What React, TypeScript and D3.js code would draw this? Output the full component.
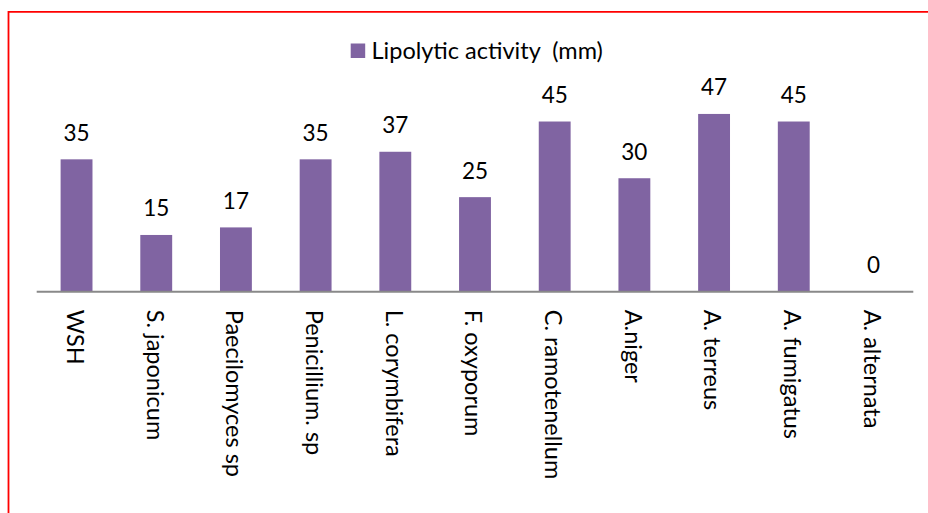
import React from "react";
import * as d3 from "d3";

const categories: string[] = [
  "WSH",
  "S. japonicum",
  "Paecilomyces sp",
  "Penicillium. sp",
  "L. corymbifera",
  "F. oxyporum",
  "C. ramotenellum",
  "A.niger",
  "A. terreus",
  "A. fumigatus",
  "A. alternata",
];
const lipolyticValues: number[] = [35, 15, 17, 35, 37, 25, 45, 30, 47, 45, 0];
const seriesName = "Lipolytic activity  (mm)";

const W = 928;
const H = 513;
const FONT = "Lato, 'Open Sans', sans-serif";
const PURPLE = "#8064A2";

export default function App() {
  const x = d3
    .scaleBand<string>()
    .domain(categories)
    .range([36.7, 913.3])
    .paddingInner(0.6)
    .paddingOuter(0.3);
  const y = d3.scaleLinear().domain([0, 50]).range([291.7, 102.6]);
  const base = y(0);

  return (
    <svg
      width={W}
      height={H}
      style={{ position: "absolute", left: 0, top: 0, background: "#fff" }}
      fontFamily={FONT}
      fontWeight={400}
    >
      <rect x={0} y={0} width={W} height={H} fill="#fff" />
      {/* red frame */}
      <line x1={8.5} x2={8.5} y1={11} y2={H} stroke="#ff0000" strokeWidth={1.8} />
      <line x1={8} x2={W} y1={11.8} y2={11.8} stroke="#ff0000" strokeWidth={1.8} />

      {/* legend */}
      <rect x={350.7} y={43.5} width={14.5} height={14.5} fill={PURPLE} />
      <text x={371.5} y={58.5} fontSize={23.5} fill="#000" style={{ whiteSpace: "pre" }}>
        {seriesName}
      </text>

      {/* bars */}
      {categories.map((c, i) => (
        <rect
          key={c}
          x={x(c)!}
          y={y(lipolyticValues[i])}
          width={x.bandwidth()}
          height={base - y(lipolyticValues[i])}
          fill={PURPLE}
        />
      ))}

      {/* axis line */}
      <line
        x1={x.range()[0]}
        x2={x.range()[1]}
        y1={base}
        y2={base}
        stroke="#898989"
        strokeWidth={2}
      />

      {/* value labels */}
      {categories.map((c, i) => (
        <text
          key={"v" + c}
          x={x(c)! + x.bandwidth() / 2}
          y={y(lipolyticValues[i]) - 18.5}
          fontSize={22.5}
          textAnchor="middle"
          fill="#000"
        >
          {lipolyticValues[i]}
        </text>
      ))}

      {/* category labels */}
      {categories.map((c) => {
        const cx = x(c)! + x.bandwidth() / 2;
        return (
          <text
            key={"c" + c}
            transform={`translate(${cx - 1.5},${base + 18}) rotate(90)`}
            fontSize={23.5}
            dy="0.35em"
            textAnchor="start"
            fill="#000"
          >
            {c}
          </text>
        );
      })}
    </svg>
  );
}
